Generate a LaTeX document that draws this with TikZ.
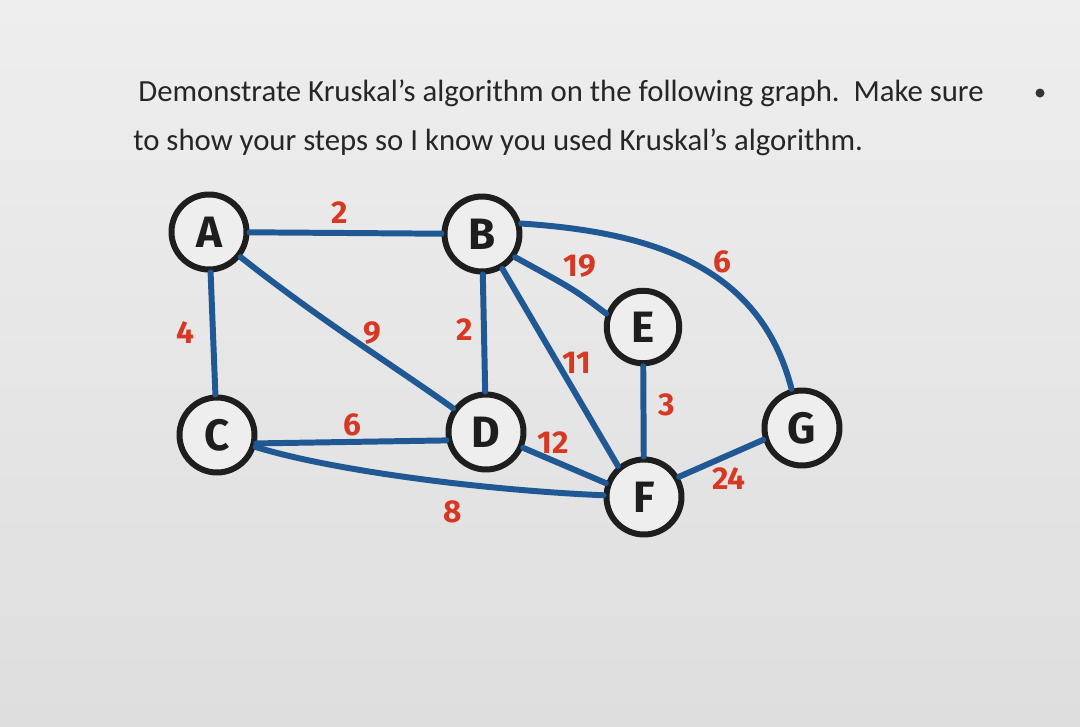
\documentclass[tikz,border=0pt]{standalone}
\usepackage{fontspec}
\setmainfont{Carlito}
\newfontfamily\handfont{Fira Sans}
\definecolor{bgtop}{RGB}{238,238,238}
\definecolor{bgbot}{RGB}{222,222,222}
\definecolor{edgeblue}{RGB}{32,88,148}
\definecolor{wred}{RGB}{214,56,36}
\definecolor{inkblack}{RGB}{30,30,30}
\begin{document}
\begin{tikzpicture}[x=0.02cm,y=-0.02cm,
  vertex/.style={circle,draw=inkblack,line width=3.4pt,fill=bgtop,minimum size=1.5cm,inner sep=0pt,
    font=\handfont\bfseries\fontsize{25}{28}\selectfont,text=inkblack},
  edge/.style={draw=edgeblue,line width=3.4pt,line cap=round},
  weight/.style={text=wred,font=\handfont\bfseries\fontsize{18}{20}\selectfont,inner sep=1pt},
  heading/.style={anchor=base west,inner sep=0pt,text=black!85,font=\fontsize{17.5}{20}\selectfont}]
\useasboundingbox (0,0) rectangle (1080,727);
\shade[top color=bgtop,bottom color=bgbot] (0,0) rectangle (1080,727);
\node[heading] (t1) at (138,101) {Demonstrate Kruskal’s algorithm on the following graph.\ \ Make sure};
\node[heading] (t2) at (133,150) {to show your steps so I know you used Kruskal’s algorithm.};
\fill[black!80] (1040,93) circle (4.5);

\node[vertex] (A) at (209,232) {A};
\node[vertex] (B) at (482,234) {B};
\node[vertex] (C) at (217,435) {C};
\node[vertex] (D) at (486,432) {D};
\node[vertex,minimum size=1.45cm] (E) at (643,327) {E};
\node[vertex] (F) at (644,497) {F};
\node[vertex] (G) at (802,428) {G};

\draw[edge] (A) -- (B);
\draw[edge] (A) -- (C);
\draw[edge] (A) .. controls (320,320) and (400,370) .. (D);
\draw[edge] (B) -- (D);
\draw[edge] (C.-12) -- (D.-168);
\draw[edge] (C) .. controls (330,470) and (480,490) .. (F);
\draw[edge] (D) -- (F.160);
\draw[edge] (B) -- (F.130);
\draw[edge] (B.-35) .. controls (575,290) .. (E.160);
\draw[edge] (E) -- (F);
\draw[edge] (B.15) .. controls (650,232) and (760,265) .. (G.105);
\draw[edge] (F.30) -- (G.197);

\node[weight] (wAB) at (340,213) {2};
\node[weight] (wAC) at (185,333) {4};
\node[weight] (wAD) at (372,333) {9};
\node[weight] (wBD) at (465,330) {2};
\node[weight] (wCD) at (352,425) {6};
\node[weight] (wBE) at (580,266) {19};
\node[weight] (wBG) at (722,262) {6};
\node[weight] (wBF) at (577,363) {11};
\node[weight] (wEF) at (667,405) {3};
\node[weight] (wDF) at (553,443) {12};
\node[weight] (wFG) at (729,479) {24};
\node[weight] (wCF) at (453,512) {8};
\end{tikzpicture}
\end{document}
